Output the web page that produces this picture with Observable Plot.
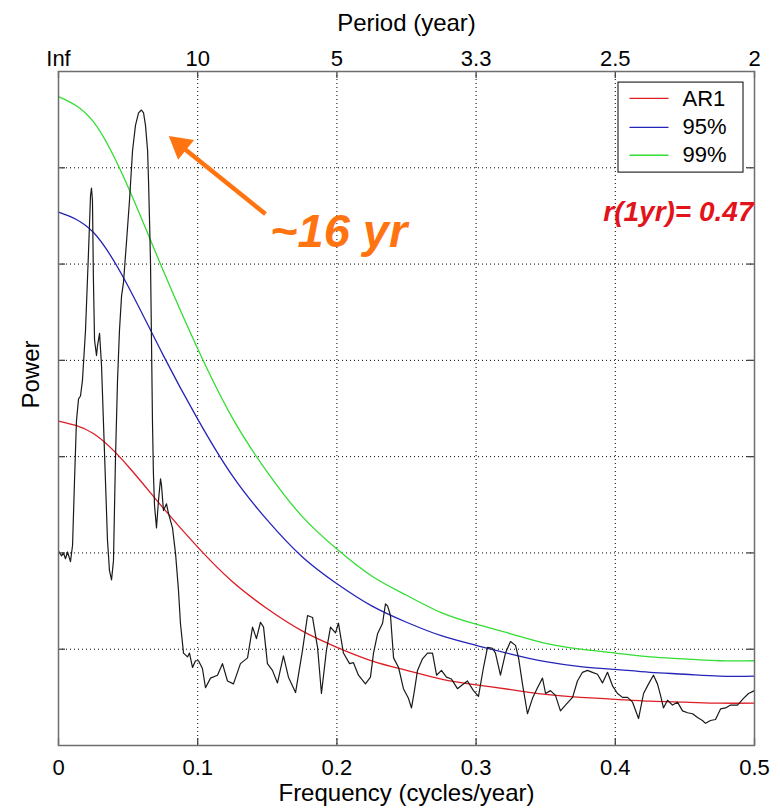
<!DOCTYPE html>
<html><head><meta charset="utf-8">
<script src="https://cdn.jsdelivr.net/npm/d3@7"></script>
<script src="https://cdn.jsdelivr.net/npm/@observablehq/plot@0.6"></script>
<style>body{margin:0;background:#fff}</style>
</head><body><div id="chart"></div>
<script>
// ---- data ----
const freqTicks = [0, 0.1, 0.2, 0.3, 0.4, 0.5];
const periodLabels = ["Inf", "10", "5", "3.3", "2.5", "2"];
const powerTicks = [1, 2, 3, 4, 5, 6];

const curveFreq = [0,0.025,0.05,0.075,0.1,0.125,0.15,0.175,0.2,0.225,0.25,0.275,0.3,0.325,0.35,0.375,0.4,0.425,0.45,0.475,0.5];
const ar1   = [3.37,3.24,2.90,2.47,2.06,1.70,1.42,1.19,1.02,0.88,0.78,0.69,0.63,0.58,0.53,0.50,0.48,0.46,0.45,0.44,0.44];
const sig95 = [5.54,5.33,4.77,4.06,3.39,2.80,2.34,1.96,1.68,1.45,1.28,1.14,1.04,0.95,0.87,0.82,0.79,0.76,0.74,0.72,0.72];
const sig99 = [6.74,6.48,5.80,4.94,4.12,3.40,2.84,2.38,2.04,1.76,1.56,1.38,1.26,1.16,1.06,1.00,0.96,0.92,0.90,0.88,0.88];

const specFreq = [0,0.0022,0.0036,0.0050,0.0065,0.0086,0.0101,0.0115,0.0129,0.0144,0.0158,0.0172,0.0194,0.0216,0.0230,0.0237,0.0244,0.0251,0.0259,0.0273,0.0280,0.0295,0.0309,0.0330,0.0352,0.0366,0.0381,0.0395,0.0409,0.0424,0.0438,0.0453,0.0467,0.0489,0.0510,0.0532,0.0553,0.0575,0.0596,0.0611,0.0625,0.0640,0.0647,0.0654,0.0661,0.0668,0.0675,0.0682,0.0690,0.0704,0.0718,0.0733,0.0740,0.0754,0.0776,0.0790,0.0819,0.0841,0.0862,0.0876,0.0898,0.0927,0.0941,0.0963,0.0984,0.1006,0.1034,0.1056,0.1092,0.1142,0.1178,0.1214,0.1257,0.1307,0.1358,0.1394,0.1422,0.1451,0.1473,0.1501,0.1537,0.1573,0.1616,0.1652,0.1703,0.1753,0.1789,0.1825,0.1861,0.1889,0.1925,0.1954,0.1990,0.2011,0.2047,0.2091,0.2119,0.2155,0.2205,0.2241,0.2263,0.2292,0.2328,0.2349,0.2364,0.2385,0.2407,0.2443,0.2478,0.2514,0.2536,0.2557,0.2579,0.2615,0.2651,0.2687,0.2716,0.2751,0.2787,0.2823,0.2866,0.2902,0.2938,0.2981,0.3017,0.3053,0.3082,0.3118,0.3139,0.3175,0.3211,0.3247,0.3283,0.3305,0.3333,0.3369,0.3405,0.3441,0.3477,0.3499,0.3534,0.3570,0.3606,0.3642,0.3693,0.3728,0.3764,0.3800,0.3836,0.3872,0.3908,0.3944,0.3980,0.4016,0.4052,0.4088,0.4124,0.4167,0.4203,0.4239,0.4274,0.4303,0.4325,0.4346,0.4375,0.4411,0.4447,0.4483,0.4519,0.4555,0.4591,0.4626,0.4648,0.4684,0.4720,0.4756,0.4792,0.4828,0.4878,0.4921,0.4957,0.5000];
const specPower = [2.02,1.97,2.00,1.94,2.01,1.91,2.08,2.75,3.37,3.60,3.63,3.79,4.31,5.14,5.71,5.79,5.66,4.83,4.21,4.05,4.15,4.28,3.95,3.06,2.13,1.82,1.72,1.92,2.96,3.79,4.31,4.67,4.81,5.24,5.66,6.18,6.44,6.57,6.60,6.57,6.44,6.18,5.85,5.45,5.02,4.21,3.37,2.82,2.49,2.26,2.54,2.77,2.70,2.44,2.51,2.41,2.26,1.99,1.61,1.27,0.96,0.92,0.96,0.81,0.88,0.88,0.80,0.60,0.70,0.73,0.85,0.67,0.64,0.85,0.91,1.23,1.11,1.28,1.23,0.85,0.78,0.65,0.93,0.71,0.55,0.99,1.35,1.33,1.02,0.54,0.99,1.23,1.17,1.27,0.96,0.85,0.86,0.73,0.64,0.71,0.96,1.16,1.27,1.47,1.45,1.35,0.91,0.81,0.59,0.49,0.39,0.57,0.78,0.90,0.96,0.96,0.73,0.78,0.71,0.69,0.59,0.63,0.67,0.57,0.51,0.81,1.02,1.01,0.96,0.73,0.96,1.08,1.04,0.91,0.64,0.33,0.49,0.60,0.70,0.54,0.57,0.52,0.36,0.42,0.50,0.67,0.76,0.78,0.76,0.74,0.65,0.76,0.62,0.54,0.50,0.50,0.45,0.28,0.54,0.64,0.73,0.64,0.52,0.39,0.47,0.42,0.45,0.36,0.34,0.33,0.29,0.26,0.23,0.26,0.27,0.38,0.39,0.42,0.42,0.49,0.54,0.57];

const seriesNames = ["AR1", "95%", "99%"];
const seriesColors = ["#dd1c24", "#2424b8", "#33dd33"];

// ---- build tables ----
const curves = [];
[ar1, sig95, sig99].forEach((arr, k) => arr.forEach((v, i) => curves.push({f: curveFreq[i], p: v, s: seriesNames[k]})));
const spectrum = specFreq.map((f, i) => ({f, p: specPower[i]}));

// ---- layout ----
const W = 780, H = 809;
const mL = 58, mR = 26, mT = 71, mB = 64;
const innerW = W - mL - mR, innerH = H - mT - mB;
const tick = 7;
const font = "Liberation Sans, Arial, Helvetica, sans-serif";
const orange = "#ff7410";

// annotation / legend placement (data units)
const legendBox = {x1: 0.4023, x2: 0.4921, y1: 5.95, y2: 6.885};
const legendRows = [6.72, 6.42, 6.13];
const legendLineX = [0.4102, 0.4382];
const legendTextX = 0.4483;
const legendItems = seriesNames.map((s, i) => ({s, y: legendRows[i], x1: legendLineX[0], x2: legendLineX[1], tx: legendTextX}));
const arrowSeg = [{x1: 0.1487, y1: 5.52, x2: 0.0884, y2: 6.22}];
const arrowHead = [{x: 0.0875, y: 6.234}];

const chart = Plot.plot({
  width: W, height: H,
  marginLeft: mL, marginRight: mR, marginTop: mT, marginBottom: mB,
  style: {fontFamily: font, background: "#fff", color: "#000"},
  x: {domain: [0, 0.5]},
  y: {domain: [0, 7], axis: null},
  color: {domain: seriesNames, range: seriesColors},
  marks: [
    Plot.ruleX([0.1, 0.2, 0.3, 0.4], {stroke: "#000", strokeWidth: 1, strokeDasharray: "1,3"}),
    Plot.ruleY(powerTicks, {stroke: "#000", strokeWidth: 1, strokeDasharray: "1,3"}),
    Plot.line(curves, {x: "f", y: "p", z: "s", stroke: "s", strokeWidth: 1.3, curve: "natural"}),
    Plot.line(spectrum, {x: "f", y: "p", stroke: "#1a1a1a", strokeWidth: 1.2}),
    // inward tick marks
    Plot.ruleX(freqTicks, {insetTop: innerH - tick, stroke: "#444", strokeWidth: 1.3}),
    Plot.ruleX(freqTicks, {insetBottom: innerH - tick, stroke: "#444", strokeWidth: 1.3}),
    Plot.ruleY(powerTicks, {insetRight: innerW - tick, stroke: "#444", strokeWidth: 1.3}),
    Plot.ruleY(powerTicks, {insetLeft: innerW - tick, stroke: "#444", strokeWidth: 1.3}),
    Plot.frame({stroke: "#6e6e6e", strokeWidth: 1.5}),
    Plot.axisX(freqTicks, {anchor: "bottom", tickSize: 0, tickPadding: 14, fontSize: 22, label: null, tickFormat: d => String(d)}),
    Plot.axisX(freqTicks, {anchor: "top", tickSize: 0, tickPadding: 6, fontSize: 22, label: null, tickFormat: d => periodLabels[freqTicks.indexOf(d)]}),
    Plot.text(["Period (year)"], {frameAnchor: "top", dy: -41, lineAnchor: "bottom", fontSize: 24, fill: "#000"}),
    Plot.text(["Frequency (cycles/year)"], {frameAnchor: "bottom", dy: 55, lineAnchor: "bottom", fontSize: 24, fill: "#000"}),
    Plot.text(["Power"], {frameAnchor: "left", dx: -20, rotate: -90, lineAnchor: "bottom", fontSize: 24, fill: "#000"}),
    // legend
    Plot.rect([legendBox], {x1: "x1", x2: "x2", y1: "y1", y2: "y2", fill: "#fff", stroke: "#000", strokeWidth: 1}),
    Plot.link(legendItems, {x1: "x1", x2: "x2", y1: "y", y2: "y", stroke: "s", strokeWidth: 1.3}),
    Plot.text(legendItems, {x: "tx", y: "y", text: "s", textAnchor: "start", lineAnchor: "middle", fontSize: 22, fill: "#000"}),
    // annotations
    Plot.link(arrowSeg, {x1: "x1", y1: "y1", x2: "x2", y2: "y2", stroke: orange, strokeWidth: 4.5}),
    Plot.dot(arrowHead, {x: "x", y: "y", symbol: "triangle", r: 9.5, rotate: -51.3, fill: orange, stroke: "none"}),
    Plot.text(["~16 yr"], {x: 0.152, y: 5.18, textAnchor: "start", lineAnchor: "bottom", fontSize: 47, fontWeight: "bold", fontStyle: "italic", fill: orange}),
    Plot.text(["r(1yr)= 0.47"], {x: 0.5, y: 5.45, dx: -1, textAnchor: "end", lineAnchor: "bottom", fontSize: 28, fontWeight: "bold", fontStyle: "italic", fill: "#e3131b"})
  ]
});
document.getElementById("chart").appendChild(chart);
</script></body></html>
